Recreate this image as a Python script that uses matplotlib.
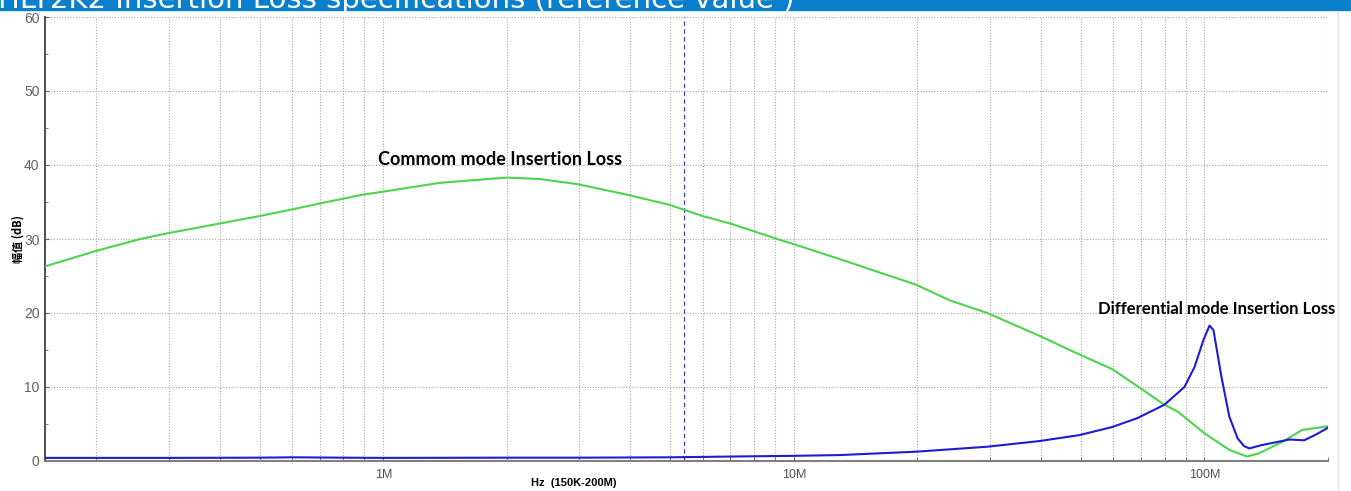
import matplotlib.pyplot as plt
from matplotlib.patches import Rectangle
from matplotlib.lines import Line2D
from matplotlib.ticker import FixedLocator, NullFormatter

# common mode insertion loss (MHz, dB)
cm_freq = [0.15, 0.2, 0.256, 0.3, 0.4, 0.5, 0.6, 0.7, 0.894, 1.0, 1.376, 2.0, 2.41, 2.98,
           3.99, 4.99, 6.0, 6.99, 7.94, 8.99, 10, 12.9, 19.9, 24.0, 29.6, 39.7, 49.6,
           59.7, 68.7, 79.9, 86, 100, 115, 127, 136, 155, 173, 200]
cm_db = [26.3, 28.4, 30.0, 30.8, 32.1, 33.1, 34.0, 34.8, 36.0, 36.4, 37.6, 38.3, 38.1, 37.4,
         35.9, 34.6, 33.1, 32.1, 31.1, 30.1, 29.3, 27.3, 23.8, 21.7, 20.0, 16.9, 14.4,
         12.4, 10.1, 7.6, 6.7, 3.75, 1.5, 0.6, 1.05, 2.6, 4.2, 4.7]

# differential mode insertion loss (MHz, dB)
dm_freq = [0.15, 0.3, 0.5, 0.6, 0.8, 1.0, 2.0, 3.0, 5.0, 7.0, 10, 12.9, 19.9, 29.6, 39.7,
           49.6, 59.7, 68.7, 79.9, 89.4, 94.6, 99.4, 102.9, 105.2, 110, 115, 120.5, 125,
           128.6, 138, 161, 175, 188, 200]
dm_db = [0.42, 0.42, 0.45, 0.5, 0.45, 0.42, 0.45, 0.45, 0.5, 0.6, 0.7, 0.8, 1.26, 1.93, 2.7,
         3.5, 4.6, 5.8, 7.6, 10.0, 12.7, 16.3, 18.3, 17.7, 11.4, 6.0, 3.05, 2.0,
         1.7, 2.15, 2.9, 2.8, 3.65, 4.5]

marker_freq = 5.4
x_major = [1, 10, 100]
x_major_labels = ["1M", "10M", "100M"]
title = "HLT2K2 Insertion Loss specifications (reference value )"

W, H = 1351, 491
fig = plt.figure(figsize=(W / 100, H / 100), dpi=100)
fig.patch.set_facecolor("white")

# banner at the top, text cut off by the page edge like in the source
fig.patches.append(Rectangle((0, 1 - 10 / H), 1, 10 / H, transform=fig.transFigure,
                             color="#0a80cc", zorder=0))
fig.text(-2 / W, 1 - 8 / H, title, color="white", fontsize=21, family="DejaVu Sans",
         va="baseline", ha="left")
fig.add_artist(Line2D([1338 / W, 1338 / W], [0, 1 - 11 / H], transform=fig.transFigure,
                      color="#e4e4e4", lw=1))

ax = fig.add_axes([45 / W, 30 / H, (1328 - 45) / W, (461 - 17) / H])
ax.plot(cm_freq, cm_db, color="#4cd44c", lw=1.5, zorder=3)
ax.plot(dm_freq, dm_db, color="#1c1cd6", lw=1.5, zorder=4)
ax.axvline(marker_freq, color="#3030e0", lw=0.8, ls=(0, (4, 3)), zorder=2)

ax.set_xscale("log")
ax.set_xlim(0.15, 200)
ax.set_ylim(0, 60)
ax.xaxis.set_major_locator(FixedLocator(x_major))
ax.set_xticklabels(x_major_labels)
minors = [m * d for d in (0.1, 1, 10, 100) for m in range(2, 10) if 0.15 < m * d <= 200]
ax.xaxis.set_minor_locator(FixedLocator(minors))
ax.xaxis.set_minor_formatter(NullFormatter())
ax.set_yticks(range(0, 61, 10))
ax.set_yticks(range(5, 60, 10), minor=True)

grid_kw = dict(color="#a8a8a8", lw=0.8, ls=(0, (1, 1.5)))
ax.grid(True, which="both", axis="x", **grid_kw)
ax.grid(True, which="major", axis="y", **grid_kw)
ax.set_axisbelow(True)

for s in ("top", "right"):
    ax.spines[s].set_visible(False)
ax.spines["left"].set_color("#404040")
ax.spines["left"].set_linewidth(1.3)
ax.spines["bottom"].set_color("#808080")
ax.spines["bottom"].set_linewidth(1.5)
ax.tick_params(which="both", direction="in", length=3, color="#606060")
ax.tick_params(axis="y", which="minor", length=2)
ax.tick_params(axis="x", labelsize=9, labelcolor="#505050", pad=6)
ax.tick_params(axis="y", labelsize=10, labelcolor="#606060", pad=4)
for lab in ax.get_xticklabels() + ax.get_yticklabels():
    lab.set_family(["Liberation Sans Narrow", "Liberation Sans"])

fig.text(18 / W, 1 - 239 / H, "幅值 (dB)", rotation=90, fontsize=8, fontweight="bold",
         family=["Noto Sans CJK SC", "DejaVu Sans"], ha="center", va="center")
fig.text(574 / W, 1 - 483 / H, "Hz  (150K-200M)", fontsize=8, fontweight="bold",
         family=["Liberation Sans Narrow", "Liberation Sans"], ha="center", va="center")

ax.text(0.972, 40.8, "Commom mode Insertion Loss", fontsize=13, fontweight="bold",
        family="Lato", ha="left", va="center", zorder=5)
ax.text(55.2, 20.5, "Differential mode Insertion Loss", fontsize=12, fontweight="bold",
        family="Lato", ha="left", va="center", clip_on=False, zorder=5)

fig.savefig("out.png", dpi=100)
